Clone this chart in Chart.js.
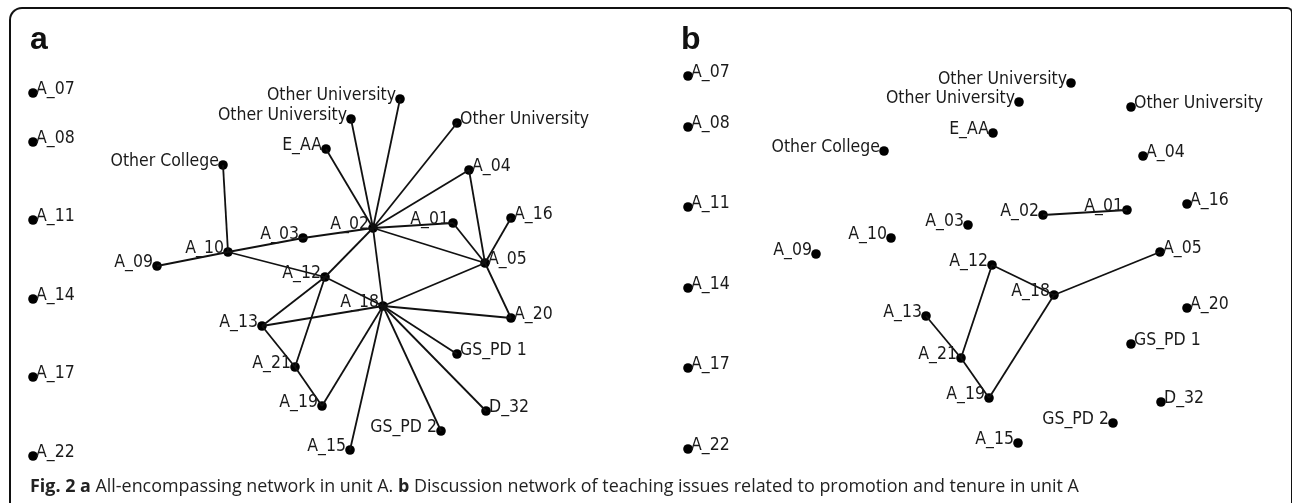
<!DOCTYPE html>
<html>
<head>
<meta charset="utf-8">
<script src="https://cdn.jsdelivr.net/npm/chart.js@4.4.1/dist/chart.umd.min.js"></script>
<style>
  html, body { margin: 0; padding: 0; background: #fff; }
  body { width: 1292px; height: 503px; position: relative; overflow: hidden; }
  .panel { position: absolute; top: 0; width: 646px; height: 470px; }
  #frame {
    position: absolute; left: 9px; top: 7px; width: 1280px; height: 520px;
    border: 2px solid #111; border-bottom: none;
    border-radius: 13px 6px 0 0; pointer-events: none;
  }
  .tag { position: absolute; font: bold 32px 'Liberation Sans', Arial, sans-serif; color: #111; }
  #caption {
    position: absolute; left: 30px; top: 473px; white-space: nowrap;
    font: 17.9px 'Open Sans', 'Noto Sans', sans-serif; color: #222;
  }
</style>
</head>
<body>
<div class="panel" style="left:0"><canvas id="netA" width="646" height="470"></canvas></div>
<div class="panel" style="left:646px"><canvas id="netB" width="646" height="470"></canvas></div>
<div id="frame"></div>
<div class="tag" style="left:30px; top:20px">a</div>
<div class="tag" style="left:681px; top:20px">b</div>
<div id="caption"><b>Fig. 2</b> <b>a</b> All-encompassing network in unit A. <b>b</b> Discussion network of teaching issues related to promotion and tenure in unit A</div>

<script>
/* ── nodes ── */
const NODE_IDS = ['A_07', 'A_08', 'A_11', 'A_14', 'A_17', 'A_22', 'OC', 'E_AA', 'OU1', 'OU2', 'OU3',
  'A_04', 'A_02', 'A_01', 'A_16', 'A_03', 'A_10', 'A_09', 'A_12', 'A_05', 'A_18', 'A_20',
  'A_13', 'A_21', 'A_19', 'GS_PD1', 'D_32', 'GS_PD2', 'A_15'];
const NODE_LABELS = ['A_07', 'A_08', 'A_11', 'A_14', 'A_17', 'A_22', 'Other College', 'E_AA',
  'Other University', 'Other University', 'Other University',
  'A_04', 'A_02', 'A_01', 'A_16', 'A_03', 'A_10', 'A_09', 'A_12', 'A_05', 'A_18', 'A_20',
  'A_13', 'A_21', 'A_19', 'GS_PD 1', 'D_32', 'GS_PD 2', 'A_15'];

/* layout a — all-encompassing network */
const A_X = [33, 33, 33, 33, 33, 33, 223, 326, 400, 351, 457, 469, 373, 453, 511, 303, 228, 157, 325, 485, 383, 511, 262, 295, 322, 457, 486, 441, 350];
const A_Y = [93, 142, 220, 299, 377, 456, 165, 149, 99, 119, 123, 170, 228, 223, 218, 238, 252, 266, 277, 263, 306, 318, 326, 367, 406, 354, 411, 431, 450];

/* layout b — teaching issues network */
const B_X = [688, 688, 688, 688, 688, 688, 884, 993, 1071, 1019, 1131, 1143, 1043, 1127, 1187, 968, 891, 816, 992, 1160, 1054, 1187, 926, 961, 989, 1131, 1161, 1113, 1018];
const B_Y = [76, 127, 207, 288, 368, 449, 151, 133, 83, 102, 107, 156, 215, 210, 204, 225, 238, 254, 265, 252, 295, 308, 316, 358, 398, 344, 402, 423, 443];

/* ties */
const EDGES_A = [
  ['OC', 'A_10'], ['A_09', 'A_10'], ['A_10', 'A_03'], ['A_03', 'A_02'], ['A_10', 'A_12'],
  ['A_12', 'A_02'], ['A_12', 'A_18'], ['A_12', 'A_13'], ['A_12', 'A_21'], ['A_13', 'A_21'],
  ['A_13', 'A_18'], ['A_21', 'A_19'], ['A_19', 'A_18'],
  ['A_02', 'E_AA'], ['A_02', 'OU1'], ['A_02', 'OU2'], ['A_02', 'OU3'], ['A_02', 'A_04'],
  ['A_02', 'A_01'], ['A_02', 'A_05'], ['A_02', 'A_18'],
  ['A_01', 'A_05'], ['A_04', 'A_05'], ['A_16', 'A_05'], ['A_05', 'A_20'], ['A_05', 'A_18'],
  ['A_18', 'A_20'], ['A_18', 'GS_PD1'], ['A_18', 'D_32'], ['A_18', 'GS_PD2'], ['A_18', 'A_15'],
];
const EDGES_B = [
  ['A_02', 'A_01'], ['A_12', 'A_18'], ['A_18', 'A_05'], ['A_12', 'A_21'],
  ['A_13', 'A_21'], ['A_21', 'A_19'], ['A_19', 'A_18'],
];

/* nodes whose name sits to the right of the dot */
const RIGHT_LABELED = ['A_07', 'A_08', 'A_11', 'A_14', 'A_17', 'A_22', 'OU3', 'A_04', 'A_16',
  'A_05', 'A_20', 'GS_PD1', 'D_32'];

const INK = '#111';
const LABEL_FONT = "17.5px 'DejaVu Sans Condensed', 'DejaVu Sans', sans-serif";

const nodeLabels = {
  id: 'nodeLabels',
  afterDatasetsDraw(chart) {
    const ctx = chart.ctx;
    const idx = chart.data.datasets.length - 1;
    const meta = chart.getDatasetMeta(idx);
    ctx.save();
    ctx.font = LABEL_FONT;
    ctx.fillStyle = '#1a1a1a';
    ctx.textBaseline = 'alphabetic';
    meta.data.forEach((pt, i) => {
      const right = RIGHT_LABELED.includes(NODE_IDS[i]);
      ctx.textAlign = right ? 'left' : 'right';
      ctx.fillText(NODE_LABELS[i], pt.x + (right ? 3 : -4), pt.y + 1);
    });
    ctx.restore();
  },
};

function renderNetwork(canvasId, xs, ys, edges, xMin) {
  const pos = id => {
    const i = NODE_IDS.indexOf(id);
    return { x: xs[i], y: ys[i] };
  };
  const edgeSets = edges.map(([s, t]) => ({
    type: 'line',
    data: [pos(s), pos(t)],
    borderColor: INK, borderWidth: 1.8,
    pointRadius: 0, fill: false, tension: 0, clip: false,
  }));
  const nodeSet = {
    type: 'scatter',
    data: NODE_IDS.map((id, i) => ({ x: xs[i], y: ys[i] })),
    backgroundColor: '#000', borderColor: '#000', borderWidth: 0,
    pointRadius: 4.8, clip: false,
  };
  return new Chart(document.getElementById(canvasId), {
    type: 'scatter',
    data: { datasets: [...edgeSets, nodeSet] },
    options: {
      responsive: false, animation: false,
      layout: { padding: 0, autoPadding: false },
      plugins: { legend: { display: false }, tooltip: { enabled: false } },
      scales: {
        x: { type: 'linear', display: false, min: xMin, max: xMin + 646 },
        y: { type: 'linear', display: false, min: 0, max: 470, reverse: true },
      },
    },
    plugins: [nodeLabels],
  });
}

renderNetwork('netA', A_X, A_Y, EDGES_A, 0);
renderNetwork('netB', B_X, B_Y, EDGES_B, 646);
</script>
</body>
</html>
